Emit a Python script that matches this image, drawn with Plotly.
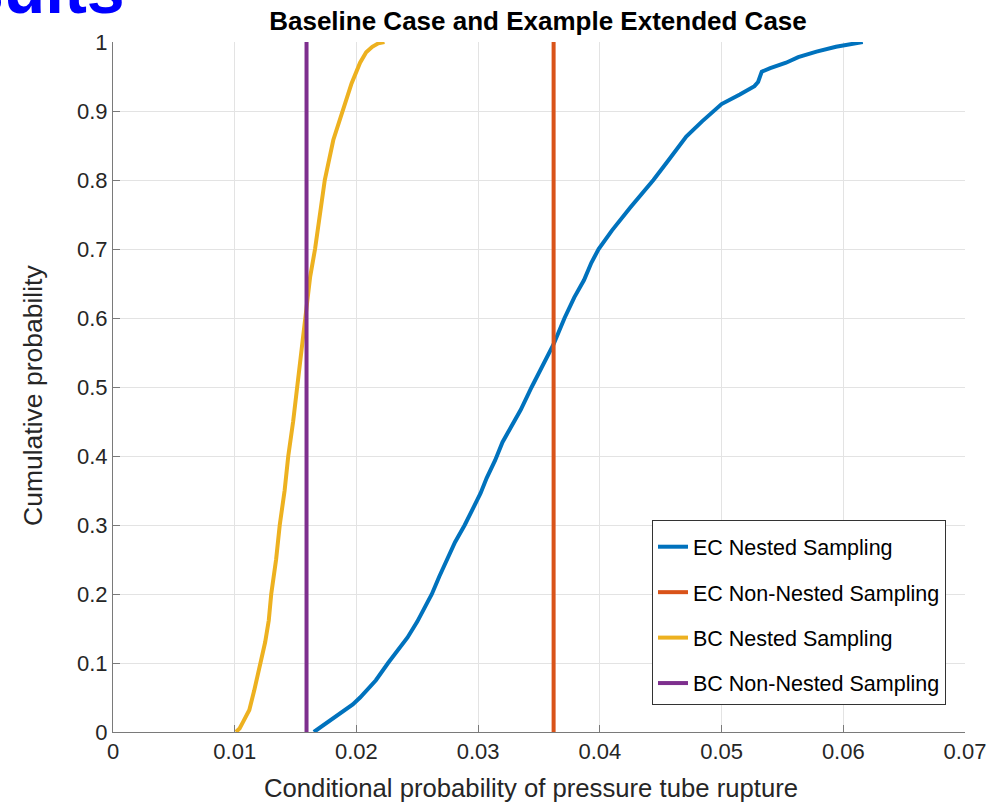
import plotly.graph_objects as go

# ---- data ----
ec_nested_x = [0.0165, 0.0173, 0.0180, 0.0186, 0.0192, 0.0197, 0.0203, 0.0208, 0.0216, 0.0226,
               0.0235, 0.0242, 0.0250, 0.0262, 0.0268, 0.0274, 0.0281, 0.0289, 0.0296, 0.0302,
               0.0307, 0.0314, 0.0320, 0.0328, 0.0335, 0.0344, 0.0353, 0.0362, 0.0371, 0.0379,
               0.0387, 0.0393, 0.0399, 0.0410, 0.0425, 0.0444, 0.0457, 0.0471, 0.0484, 0.0493,
               0.0500, 0.0515, 0.0527, 0.0530, 0.0533, 0.0540, 0.0553, 0.0563, 0.0578, 0.0594,
               0.0605, 0.0616]
ec_nested_y = [0.000, 0.010, 0.017, 0.025, 0.032, 0.040, 0.050, 0.060, 0.075, 0.100,
               0.120, 0.137, 0.160, 0.200, 0.225, 0.249, 0.275, 0.300, 0.325, 0.346,
               0.368, 0.394, 0.420, 0.445, 0.467, 0.500, 0.530, 0.562, 0.600, 0.630,
               0.655, 0.680, 0.700, 0.727, 0.760, 0.800, 0.830, 0.863, 0.885, 0.900,
               0.910, 0.924, 0.936, 0.942, 0.957, 0.962, 0.970, 0.978, 0.986, 0.993,
               0.997, 1.000]

bc_nested_x = [0.0101, 0.0104, 0.0107, 0.0112, 0.0116, 0.0121, 0.0125, 0.0128, 0.0130, 0.0134,
               0.0137, 0.0141, 0.0144, 0.0148, 0.0152, 0.0155, 0.0159, 0.0162, 0.0166, 0.0170,
               0.0174, 0.0181, 0.0189, 0.0196, 0.0203, 0.0208, 0.0213, 0.0218, 0.0223]
bc_nested_y = [0.000, 0.005, 0.015, 0.032, 0.060, 0.100, 0.130, 0.162, 0.200, 0.250,
               0.300, 0.350, 0.400, 0.450, 0.510, 0.560, 0.620, 0.660, 0.700, 0.750,
               0.800, 0.858, 0.900, 0.940, 0.970, 0.985, 0.993, 0.998, 1.000]

ec_non_nested = 0.0362
bc_non_nested = 0.0159

x_ticks = [0, 0.01, 0.02, 0.03, 0.04, 0.05, 0.06, 0.07]
x_tick_labels = ["0", "0.01", "0.02", "0.03", "0.04", "0.05", "0.06", "0.07"]
y_ticks = [0, 0.1, 0.2, 0.3, 0.4, 0.5, 0.6, 0.7, 0.8, 0.9, 1]
y_tick_labels = ["0", "0.1", "0.2", "0.3", "0.4", "0.5", "0.6", "0.7", "0.8", "0.9", "1"]

names = ["EC Nested Sampling", "EC Non-Nested Sampling", "BC Nested Sampling", "BC Non-Nested Sampling"]
colors = ["#0072BD", "#D95319", "#EDB120", "#7E2F8E"]

FONT = "Arial, Liberation Sans, Helvetica, sans-serif"

fig = go.Figure()
fig.add_trace(go.Scatter(x=ec_nested_x, y=ec_nested_y, mode="lines", name=names[0],
                         line=dict(color=colors[0], width=4), legendgroup="a"))
fig.add_trace(go.Scatter(x=[ec_non_nested, ec_non_nested], y=[0, 1], mode="lines", name=names[1],
                         line=dict(color=colors[1], width=4), legendgroup="b"))
fig.add_trace(go.Scatter(x=bc_nested_x, y=bc_nested_y, mode="lines", name=names[2],
                         line=dict(color=colors[2], width=4), legendgroup="c"))
fig.add_trace(go.Scatter(x=[bc_non_nested, bc_non_nested], y=[0, 1], mode="lines", name=names[3],
                         line=dict(color=colors[3], width=4), legendgroup="d"))

axis_common = dict(
    showgrid=True, gridcolor="#e3e3e3", gridwidth=1,
    showline=True, linecolor="#7a7a7a", linewidth=1, mirror=False,
    ticks="inside", ticklen=7, tickcolor="#7a7a7a",
    tickfont=dict(family=FONT, size=22, color="#262626"),
    zeroline=False,
)

fig.update_layout(
    width=999, height=803,
    margin=dict(l=113, r=34, t=42, b=71),
    paper_bgcolor="white", plot_bgcolor="white",
    showlegend=True,
    legend=dict(x=0.6326, y=0.3072, xanchor="left", yanchor="top",
                bgcolor="white", bordercolor="#333333", borderwidth=1,
                font=dict(family=FONT, size=21.5, color="#000000"),
                title=dict(text=" ", font=dict(size=4)),
                traceorder="grouped", tracegroupgap=14.5, itemwidth=30),
    xaxis=dict(range=[0, 0.07], tickvals=x_ticks, ticktext=x_tick_labels, **axis_common),
    yaxis=dict(range=[0, 1], tickvals=y_ticks, ticktext=y_tick_labels, **axis_common),
    title=dict(text="<b>Baseline Case and Example Extended Case</b>",
               x=(538 / 999), xanchor="center", y=1 - 21 / 803, yanchor="middle",
               font=dict(family=FONT, size=26, color="#000000")),
)

fig.add_annotation(text="Conditional probability of pressure tube rupture",
                   xref="paper", yref="paper", x=(531 - 113) / 852, y=(732 - 788) / 690,
                   xanchor="center", yanchor="middle", showarrow=False,
                   font=dict(family=FONT, size=25.7, color="#262626"))
fig.add_annotation(text="Cumulative probability",
                   xref="paper", yref="paper", x=(33 - 113) / 852, y=(732 - 396) / 690,
                   xanchor="center", yanchor="middle", textangle=-90, showarrow=False,
                   font=dict(family=FONT, size=26.5, color="#262626"))
fig.add_annotation(text="<b>Results</b>",
                   xref="paper", yref="paper", x=(127 - 113) / 852, y=(732 - 29) / 690,
                   xanchor="right", yanchor="bottom", showarrow=False,
                   font=dict(family=FONT, size=68, color="#0000FF"))

fig.write_html("out.html")
